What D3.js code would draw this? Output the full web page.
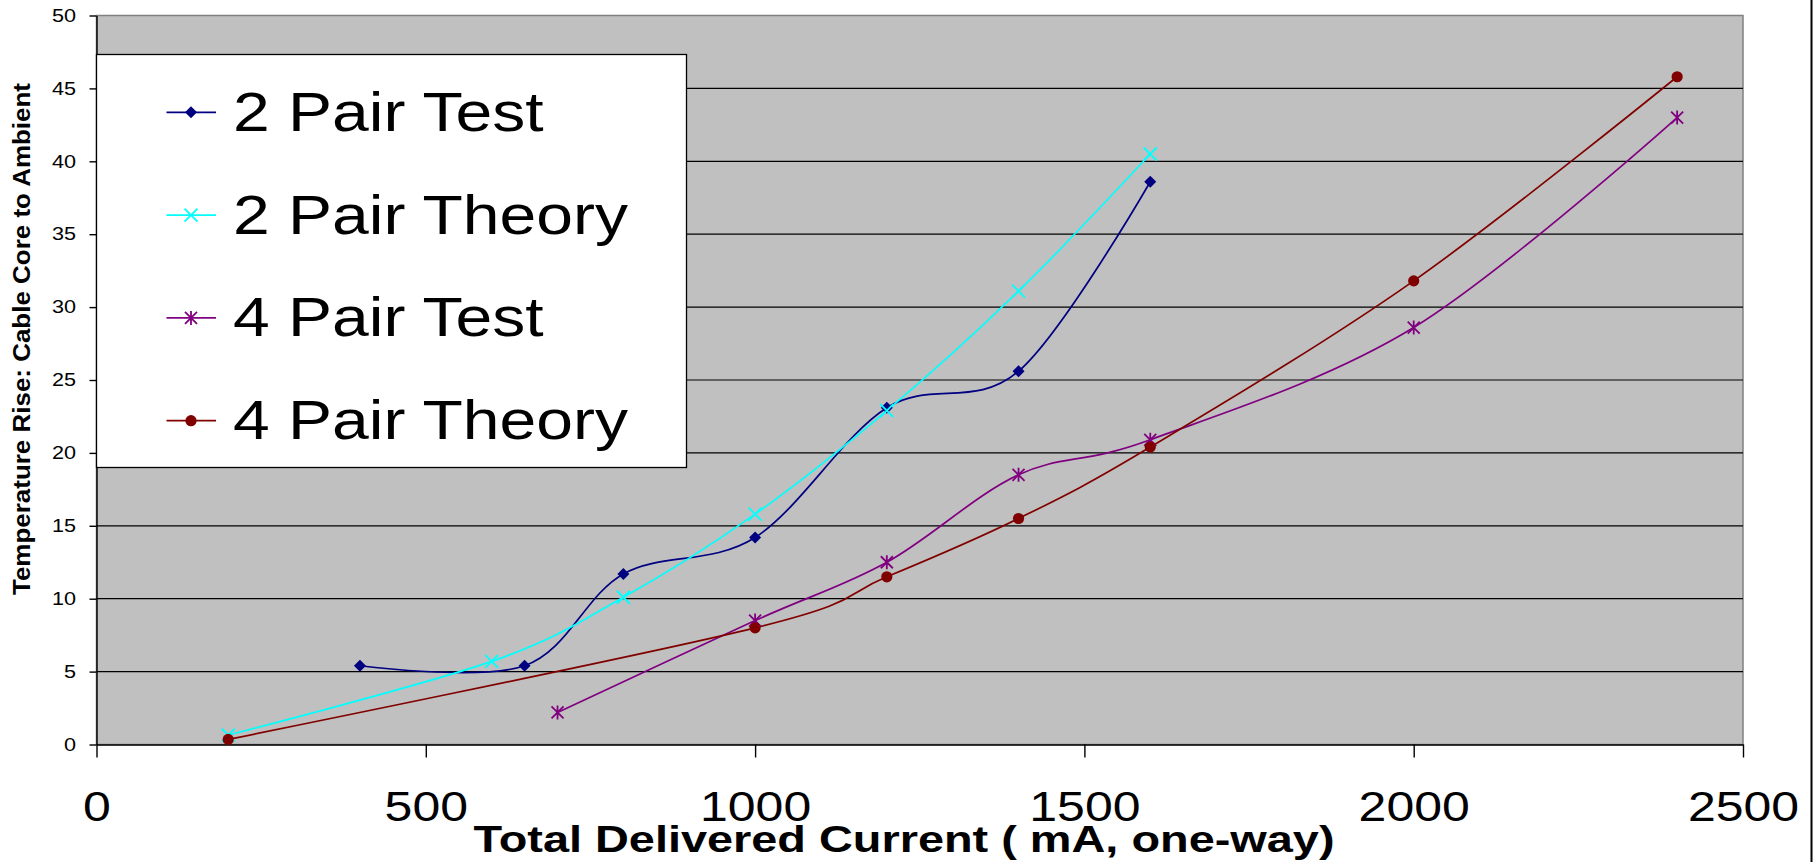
<!DOCTYPE html>
<html>
<head>
<meta charset="utf-8">
<script src="https://cdn.jsdelivr.net/npm/d3@7"></script>
<style>
  body { margin: 0; background: #fff; }
  svg { display: block; font-family: "Liberation Sans", Arial, sans-serif; }
</style>
</head>
<body>
<script>
// values
const seriesNames = ["2 Pair Test", "2 Pair Theory", "4 Pair Test", "4 Pair Theory"];

const current2Test = [400, 650, 800, 1000, 1200, 1400, 1600];
const rise2Test = [5.4, 5.4, 11.7, 14.2, 23.1, 25.6, 38.6];

const current2Theory = [200, 600, 800, 1000, 1200, 1400, 1600];
const rise2Theory = [0.65, 5.7, 10.1, 15.8, 22.9, 31.1, 40.5];

const current4Test = [700, 1000, 1200, 1400, 1600, 2000, 2400];
const rise4Test = [2.2, 8.5, 12.5, 18.5, 20.9, 28.6, 43.0];

const current4Theory = [200, 1000, 1200, 1400, 1600, 2000, 2400];
const rise4Theory = [0.35, 8.0, 11.5, 15.5, 20.4, 31.8, 45.8];

const xTicks = [0, 500, 1000, 1500, 2000, 2500];
const yTicks = [0, 5, 10, 15, 20, 25, 30, 35, 40, 45, 50];

const xTitle = "Total Delivered Current ( mA, one-way)";
const yTitle = "Temperature Rise: Cable Core to Ambient";

// styling
const colors = ["#000080", "#00ffff", "#800080", "#800000"];
const markers = ["diamond", "cross", "star", "dot"];

const series = [
  {xs: current2Test, ys: rise2Test},
  {xs: current2Theory, ys: rise2Theory},
  {xs: current4Test, ys: rise4Test},
  {xs: current4Theory, ys: rise4Theory}
].map((s, i) => ({
  name: seriesNames[i],
  color: colors[i],
  marker: markers[i],
  values: s.xs.map((x, j) => ({x: x, y: s.ys[j]}))
}));

const width = 1818, height = 862;
const plot = {left: 96.5, right: 1743, top: 15.5, bottom: 744.5};

const xScale = d3.scaleLinear().domain([0, 2500]).range([plot.left, plot.right]);
const yScale = d3.scaleLinear().domain([0, 50]).range([plot.bottom, plot.top]);

// stretch text horizontally like the source picture
const stretch = (sel, k) => sel.each(function() {
  const w = this.getComputedTextLength();
  d3.select(this).attr("textLength", w * k).attr("lengthAdjust", "spacingAndGlyphs");
});

const markerPath = (type) => {
  if (type === "diamond") return "M0,-6L6,0L0,6L-6,0Z";
  if (type === "cross") return "M-6.5,-6.5L6.5,6.5M-6.5,6.5L6.5,-6.5";
  if (type === "star") return "M-6,-6L6,6M-6,6L6,-6M0,-7L0,7";
  return null;
};

const drawMarker = (g, type, color) => {
  if (type === "dot") {
    g.append("circle").attr("r", 5.6).attr("fill", color);
  } else if (type === "diamond") {
    g.append("path").attr("d", markerPath(type)).attr("fill", color);
  } else {
    g.append("path").attr("d", markerPath(type))
      .attr("fill", "none").attr("stroke", color).attr("stroke-width", 1.8);
  }
};

const svg = d3.select("body").append("svg")
  .attr("width", width)
  .attr("height", height);

// plot area
svg.append("rect")
  .attr("x", plot.left).attr("y", plot.top)
  .attr("width", plot.right - plot.left)
  .attr("height", plot.bottom - plot.top)
  .attr("fill", "#c0c0c0")
  .attr("stroke", "#808080")
  .attr("stroke-width", 1.5);

// gridlines
svg.append("g")
  .selectAll("line")
  .data(yTicks.filter(d => d > 0 && d < 50))
  .enter()
  .append("line")
  .attr("x1", plot.left).attr("x2", plot.right)
  .attr("y1", d => yScale(d)).attr("y2", d => yScale(d))
  .attr("stroke", "#000")
  .attr("stroke-width", 1.2);

// axes
const yAxis = d3.axisLeft(yScale).tickValues(yTicks).tickSize(7).tickSizeOuter(0)
  .tickFormat(d3.format("d"));
const xAxis = d3.axisBottom(xScale).tickValues(xTicks).tickSize(13).tickSizeOuter(0).tickPadding(34)
  .tickFormat(d3.format("d"));

const yAxisG = svg.append("g")
  .attr("transform", `translate(${plot.left},0)`)
  .call(yAxis);
yAxisG.selectAll("text")
  .attr("font-size", 18)
  .attr("fill", "#000")
  .attr("font-family", "Liberation Sans, Arial, sans-serif")
  .attr("text-anchor", "start")
  .each(function() {
    const w = this.getComputedTextLength() * 1.2;
    d3.select(this)
      .attr("x", -20.5 - w)
      .attr("textLength", w)
      .attr("lengthAdjust", "spacingAndGlyphs");
  });

const xAxisG = svg.append("g")
  .attr("transform", `translate(0,${plot.bottom})`)
  .call(xAxis);
xAxisG.selectAll("text")
  .attr("font-size", 42)
  .attr("fill", "#000")
  .attr("font-family", "Liberation Sans, Arial, sans-serif")
  .call(stretch, 1.19);

svg.selectAll(".domain, .tick line").attr("stroke", "#000").attr("stroke-width", 1.4);

// lines
const line = d3.line()
  .x(d => xScale(d.x))
  .y(d => yScale(d.y))
  .curve(d3.curveCardinal.tension(0));

svg.append("g")
  .selectAll("path")
  .data(series)
  .enter()
  .append("path")
  .attr("d", d => line(d.values))
  .attr("fill", "none")
  .attr("stroke", d => d.color)
  .attr("stroke-width", 1.7);

// markers
series.forEach(s => {
  svg.append("g")
    .selectAll("g")
    .data(s.values)
    .enter()
    .append("g")
    .attr("transform", d => `translate(${xScale(d.x)},${yScale(d.y)})`)
    .each(function() { drawMarker(d3.select(this), s.marker, s.color); });
});

// legend
const legend = svg.append("g");
legend.append("rect")
  .attr("x", plot.left).attr("y", 54.5)
  .attr("width", 590).attr("height", 413)
  .attr("fill", "#fff")
  .attr("stroke", "#000")
  .attr("stroke-width", 1.3);

const entry = legend.selectAll("g.entry")
  .data(series)
  .enter()
  .append("g")
  .attr("class", "entry")
  .attr("transform", (d, i) => `translate(0,${112.3 + i * 102.8})`);

entry.append("line")
  .attr("x1", 166.5).attr("x2", 216)
  .attr("stroke", d => d.color)
  .attr("stroke-width", 1.7);

entry.append("g")
  .attr("transform", "translate(191,0)")
  .each(function(d) { drawMarker(d3.select(this), d.marker, d.color); });

entry.append("text")
  .attr("x", 233)
  .attr("y", 18.5)
  .attr("font-size", 55)
  .text(d => d.name)
  .call(stretch, 1.2);

// axis titles
svg.append("text")
  .attr("x", 904)
  .attr("y", 851.7)
  .attr("text-anchor", "middle")
  .attr("font-size", 37)
  .attr("font-weight", "bold")
  .text(xTitle)
  .attr("textLength", 861)
  .attr("lengthAdjust", "spacingAndGlyphs");

svg.append("text")
  .attr("transform", "translate(30,339) rotate(-90)")
  .attr("text-anchor", "middle")
  .attr("font-size", 23)
  .attr("font-weight", "bold")
  .text(yTitle)
  .attr("textLength", 512)
  .attr("lengthAdjust", "spacingAndGlyphs");

// chart area edge on the right
svg.append("line")
  .attr("x1", 1811.5).attr("x2", 1811.5)
  .attr("y1", 0).attr("y2", height)
  .attr("stroke", "#000")
  .attr("stroke-width", 2);
</script>
</body>
</html>
